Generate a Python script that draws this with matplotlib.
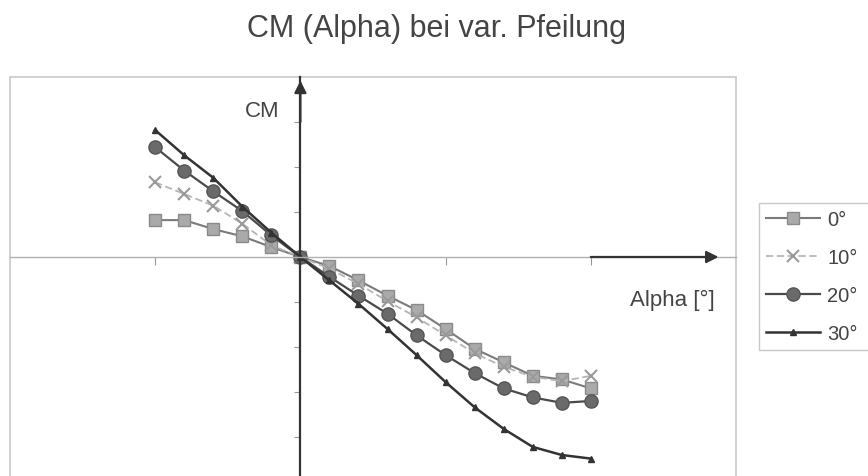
import numpy as np
import matplotlib.pyplot as plt
from matplotlib.patches import Rectangle

plt.rcParams['font.family'] = ['Liberation Sans', 'DejaVu Sans']

# Anstellwinkel [deg]
alpha = [-10, -8, -6, -4, -2, 0, 2, 4, 6, 8, 10, 12, 14, 16, 18, 20]

# CM bei verschiedener Pfeilung
cm_0 = [0.041, 0.041, 0.031, 0.023, 0.011, 0.0, -0.010, -0.026, -0.043, -0.059,
        -0.080, -0.102, -0.117, -0.132, -0.136, -0.146]
cm_10 = [0.083, 0.070, 0.057, 0.037, 0.013, 0.0, -0.013, -0.030, -0.049, -0.067,
         -0.087, -0.107, -0.122, -0.133, -0.138, -0.132]
cm_20 = [0.122, 0.096, 0.073, 0.051, 0.024, 0.0, -0.022, -0.043, -0.063, -0.087,
         -0.109, -0.129, -0.146, -0.156, -0.162, -0.160]
cm_30 = [0.141, 0.113, 0.088, 0.056, 0.027, 0.0, -0.026, -0.052, -0.080, -0.109,
         -0.139, -0.167, -0.191, -0.211, -0.220, -0.224]

labels = ['0°', '10°', '20°', '30°']
x_ticks = [-10, 10, 20]
y_ticks = [-0.25, -0.2, -0.15, -0.1, -0.05, 0.05, 0.1, 0.15]

W, H = 868, 477
fig = plt.figure(figsize=(W / 100, H / 100), dpi=100)

# Plotbereich: links 10px, rechts 736px, oben 78px, unten ausserhalb des Bildes
ax = fig.add_axes([10 / W, 1 - 78 / H - 450 / H, 726 / W, 450 / H])
ax.set_xlim(-20, 30)
ax.set_ylim(-0.3, 0.2)

ax.plot(alpha, cm_0, color='#7a7a7a', lw=1.5, marker='s', ms=8.5,
        mfc='#aaaaaa', mec='#8a8a8a', label=labels[0])
ax.plot(alpha, cm_10, color='#b5b5b5', lw=1.3, ls=(0, (4, 2)), marker='x', ms=8,
        mew=1.5, mec='#9a9a9a', label=labels[1])
ax.plot(alpha, cm_20, color='#4a4a4a', lw=1.6, marker='o', ms=9.5,
        mfc='#6a6a6a', mec='#555555', label=labels[2])
ax.plot(alpha, cm_30, color='#333333', lw=1.8, marker='^', ms=4.5,
        mfc='#333333', mec='#333333', label=labels[3])

# Achsen durch den Ursprung
for s in ['top', 'right']:
    ax.spines[s].set_visible(False)
ax.spines['left'].set_position(('data', 0))
ax.spines['bottom'].set_position(('data', 0))
ax.spines['left'].set_color('#333333')
ax.spines['left'].set_linewidth(1.6)
ax.spines['bottom'].set_color('#b0b0b0')
ax.spines['bottom'].set_linewidth(1.0)
ax.set_xticks(x_ticks)
ax.set_yticks(y_ticks)
ax.tick_params(axis='x', direction='out', length=6, color='#999999', labelbottom=False)
ax.tick_params(axis='y', direction='out', length=4, color='#999999', labelleft=False)

# Rahmen des Plotbereichs
ax.add_patch(Rectangle((0, 0), 1, 1, transform=ax.transAxes, fill=False,
                       ec='#c8c8c8', lw=1.2, clip_on=False))

# Pfeile
ax.annotate('', xy=(28.8, 0), xytext=(20, 0),
            arrowprops=dict(arrowstyle='-|>', color='#333333', lw=1.6,
                            mutation_scale=18, shrinkA=0, shrinkB=0))
ax.annotate('', xy=(0, 0.196), xytext=(0, 0.15),
            arrowprops=dict(arrowstyle='-|>', color='#333333', lw=1.6,
                            mutation_scale=18, shrinkA=0, shrinkB=0))

fig.text(245 / W, 1 - 117 / H, 'CM', fontsize=16, color='#444444', va='baseline')
fig.text(630 / W, 1 - 306 / H, 'Alpha [°]', fontsize=16, color='#444444', va='baseline')
fig.text(436 / W, 1 - 37 / H, 'CM (Alpha) bei var. Pfeilung', fontsize=22,
         color='#444444', ha='center', va='baseline')

leg = fig.legend(loc='upper left', bbox_to_anchor=(759 / W, 0, 0.2, 1 - 204 / H),
                 mode='expand', frameon=True, fancybox=False, edgecolor='#bbbbbb',
                 fontsize=14.5, handlelength=2.7, handletextpad=0.35,
                 borderpad=0.35, labelspacing=0.95, borderaxespad=0)
leg.get_frame().set_linewidth(1.0)
for t in leg.get_texts():
    t.set_color('#444444')

fig.savefig('out.png', dpi=100)
